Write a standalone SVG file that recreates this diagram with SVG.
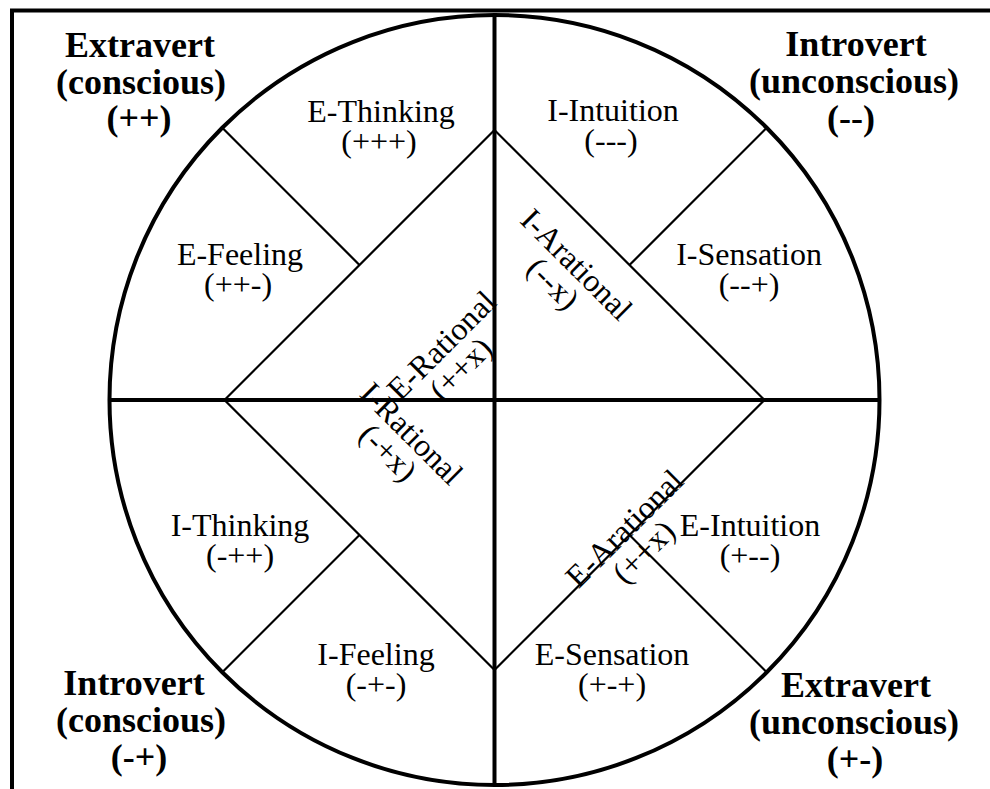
<svg xmlns="http://www.w3.org/2000/svg" width="990" height="789" viewBox="0 0 990 789">
<style>
.thick{fill:none;stroke:#000;stroke-width:4}
.thin{fill:none;stroke:#000;stroke-width:2.2}
text{font-family:"Liberation Serif","Times New Roman",serif;fill:#000;text-anchor:middle}
.lbl{font-size:32px}
.big{font-size:36px;font-weight:bold}
</style>
<rect width="990" height="789" fill="#fff"/>
<g id="frame">
<line class="thick" x1="10" y1="10.5" x2="990" y2="10.5"/>
<line class="thick" x1="12" y1="10" x2="12" y2="789"/>
</g>
<g id="connectors">
<circle class="thick" cx="494.5" cy="400" r="385"/>
<line class="thick" x1="494.5" y1="15" x2="494.5" y2="785"/>
<line class="thick" x1="109.5" y1="400" x2="879.5" y2="400"/>
<polygon class="thin" points="224.5,400 494.5,130 764.5,400 494.5,670"/>
<line class="thin" x1="359.5" y1="265" x2="222.3" y2="127.8"/>
<line class="thin" x1="629.5" y1="265" x2="766.7" y2="127.8"/>
<line class="thin" x1="359.5" y1="535" x2="222.3" y2="672.2"/>
<line class="thin" x1="629.5" y1="535" x2="766.7" y2="672.2"/>
</g>
<g id="extravert-conscious"><text class="big"><tspan x="140" y="57">Extravert</tspan><tspan x="141" y="94">(conscious)</tspan><tspan x="139" y="130">(++)</tspan></text></g>
<g id="introvert-unconscious"><text class="big"><tspan x="856" y="56">Introvert</tspan><tspan x="854" y="93">(unconscious)</tspan><tspan x="851" y="130">(--)</tspan></text></g>
<g id="introvert-conscious"><text class="big"><tspan x="134" y="695">Introvert</tspan><tspan x="141" y="732">(conscious)</tspan><tspan x="139" y="769">(-+)</tspan></text></g>
<g id="extravert-unconscious"><text class="big"><tspan x="856" y="697">Extravert</tspan><tspan x="854" y="734">(unconscious)</tspan><tspan x="855" y="771">(+-)</tspan></text></g>
<g id="e-thinking"><text class="lbl"><tspan x="381" y="122">E-Thinking</tspan><tspan x="379" y="152">(+++)</tspan></text></g>
<g id="i-intuition"><text class="lbl"><tspan x="613" y="121">I-Intuition</tspan><tspan x="611" y="151">(---)</tspan></text></g>
<g id="e-feeling"><text class="lbl"><tspan x="240" y="265">E-Feeling</tspan><tspan x="238" y="295">(++-)</tspan></text></g>
<g id="i-sensation"><text class="lbl"><tspan x="749" y="265">I-Sensation</tspan><tspan x="749" y="295">(--+)</tspan></text></g>
<g id="i-thinking"><text class="lbl"><tspan x="240" y="536">I-Thinking</tspan><tspan x="240" y="566">(-++)</tspan></text></g>
<g id="e-intuition"><text class="lbl"><tspan x="750" y="536">E-Intuition</tspan><tspan x="750" y="566">(+--)</tspan></text></g>
<g id="i-feeling"><text class="lbl"><tspan x="376" y="665">I-Feeling</tspan><tspan x="376" y="695">(-+-)</tspan></text></g>
<g id="e-sensation"><text class="lbl"><tspan x="612" y="665">E-Sensation</tspan><tspan x="612" y="695">(+-+)</tspan></text></g>
<g id="e-rational"><text class="lbl" transform="translate(449,353) rotate(-45)"><tspan x="0" y="0">E-Rational</tspan><tspan x="-3" y="30">(++x)</tspan></text></g>
<g id="i-rational"><text class="lbl" transform="translate(404,441) rotate(45)"><tspan x="0" y="0">I-Rational</tspan><tspan x="-3" y="30">(-+x)</tspan></text></g>
<g id="i-arational"><text class="lbl" transform="translate(569,272) rotate(45)"><tspan x="0" y="0">I-Arational</tspan><tspan x="-3" y="30">(--x)</tspan></text></g>
<g id="e-arational"><text class="lbl" transform="translate(632,536) rotate(-45)"><tspan x="0" y="0">E-Arational</tspan><tspan x="-3" y="30">(++x)</tspan></text></g>
</svg>
